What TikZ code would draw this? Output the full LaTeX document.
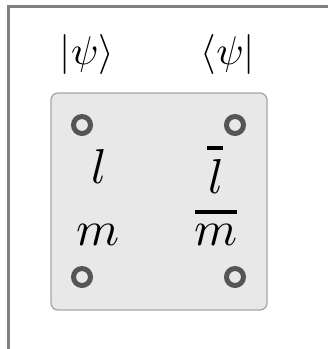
\documentclass[tikz,border=0pt]{standalone}
\definecolor{framegray}{HTML}{808080}
\definecolor{boxfill}{HTML}{E8E8E8}
\definecolor{boxdraw}{HTML}{A6A6A6}
\definecolor{ringgray}{HTML}{555555}
\begin{document}
\begin{tikzpicture}[x=1pt,y=-1pt,
  ring/.style={circle,draw=ringgray,line width=5pt,minimum size=17pt,inner sep=0pt},
  ket/.style={scale=4,anchor=base,inner sep=0pt},
  var/.style={scale=4.9,anchor=base,inner sep=0pt},
  barline/.style={line width=3.5pt}]
\useasboundingbox (0,0) rectangle (328,349);
\draw[framegray,line width=2.2pt] (8.5,349) -- (8.5,6.5) -- (328,6.5);
\node[draw=boxdraw,fill=boxfill,rounded corners=7pt,line width=1.3pt,
      minimum width=216pt,minimum height=217pt,inner sep=0pt] (box) at (159,201.5) {};
\node[ring] (r1) at (82,125) {};
\node[ring] (r2) at (235,125) {};
\node[ring] (r3) at (82,277) {};
\node[ring] (r4) at (235,277) {};
\node[ket] (ket) at (87,64) {$|\psi\rangle$};
\node[ket] (bra) at (228,64) {$\langle\psi|$};
\node[var] (l) at (99,183) {$l$};
\node[var] (m) at (98.5,245) {$m$};
\node[var] (lb) at (216,193) {$l$};
\node[var] (mb) at (216,245) {$m$};
\draw[barline] (207,148) -- (223,148);
\draw[barline] (195,212) -- (237,212);
\end{tikzpicture}
\end{document}
